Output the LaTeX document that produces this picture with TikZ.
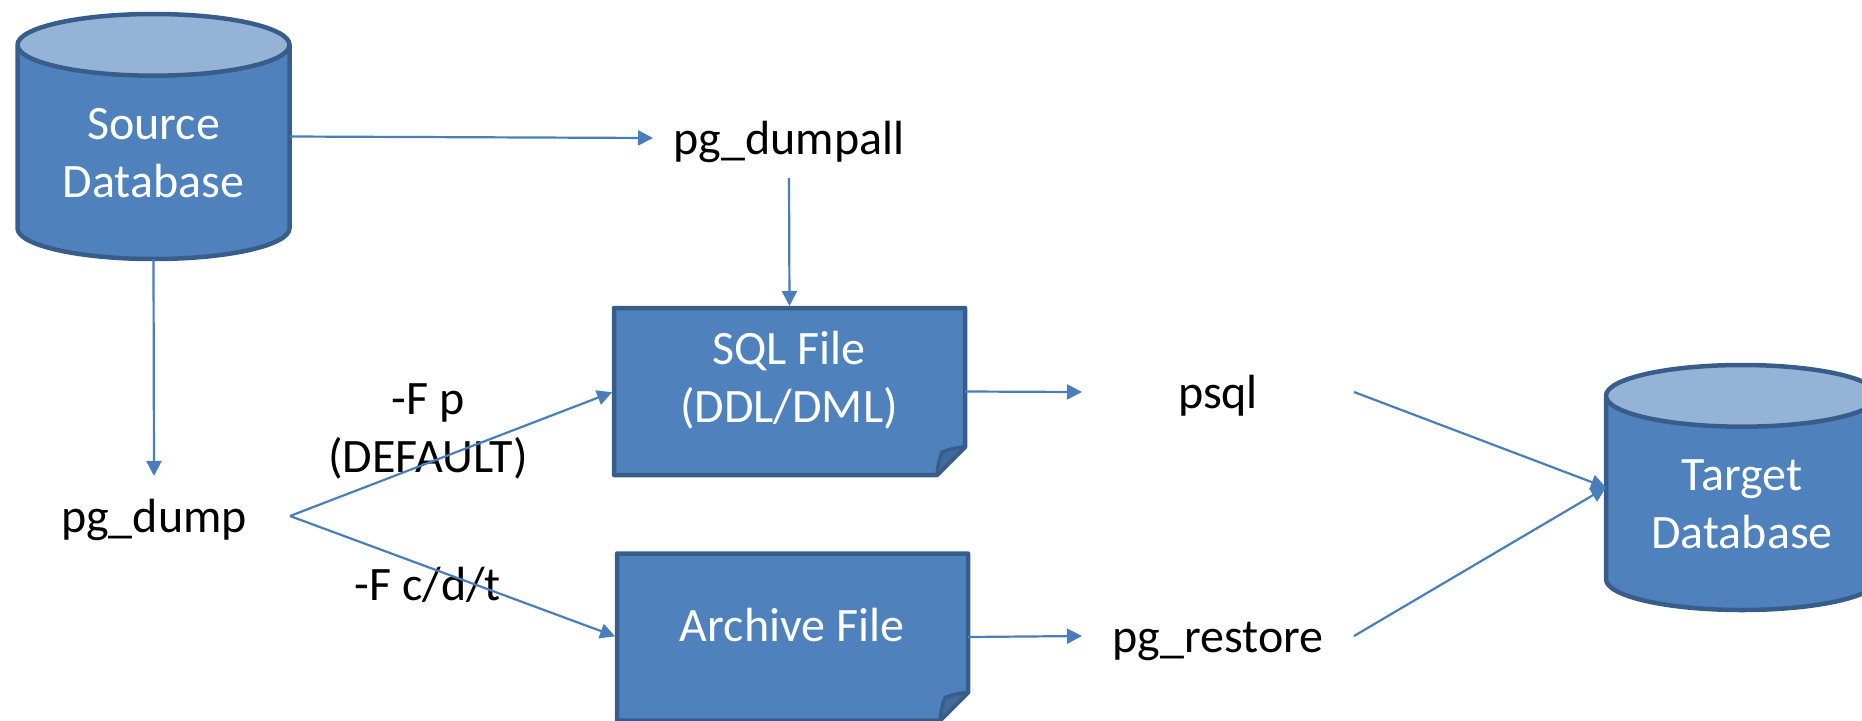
\documentclass[tikz,border=0pt]{standalone}
\usepackage{fontspec}
\setmainfont{Carlito}
\usetikzlibrary{shapes.geometric}
\usetikzlibrary{arrows.meta}
\definecolor{boxfill}{HTML}{4F81BD}
\definecolor{boxline}{HTML}{385D8A}
\definecolor{boxtop}{HTML}{95B3D7}
\definecolor{flapfill}{HTML}{41699A}
\definecolor{arrowline}{HTML}{4A7EBB}
\begin{document}
\begin{tikzpicture}[x=1pt, y=-1pt, font=\fontsize{48}{58}\selectfont,
	dbase/.style={draw=boxline,line width=4.5pt,shape=cylinder,shape border rotate=90,aspect=0.34,
	cylinder uses custom fill,cylinder body fill=boxfill,cylinder end fill=boxtop,anchor=shape center,
	minimum width=272pt,minimum height=245pt,inner sep=0pt,outer sep=0pt,text=white,align=center},
	filebox/.style={minimum width=351pt,minimum height=167pt,inner sep=0pt,outer sep=0pt},
	fileline/.style={draw=boxline,fill=boxfill,line width=4.5pt,line join=round},
	flap/.style={draw=boxline,fill=flapfill,line width=3.5pt,line join=round},
	filetext/.style={text=white,align=center},
	tool/.style={minimum width=272pt,minimum height=80pt,inner sep=0pt,outer sep=0pt,text height=40pt,text depth=8pt},
	flag/.style={align=center,inner sep=0pt},
	link/.style={draw=arrowline,line width=2.2pt,-{Triangle[length=15pt,width=15pt]}},
	tofile/.style={link,shorten >=2pt}]
\useasboundingbox (0,0) rectangle (1862,720);
\clip (0,0) rectangle (1862,720);
\node[dbase] (src) at (153.5, 136.5) {Source\\Database};
\node[dbase] (tgt) at (1742, 487.5) {Target\\Database};
\node[filebox] (sql) at (789.5, 391.5) {};
\node[filebox] (arc) at (792.5, 637) {};
\draw[fileline] (sql.north west) -- (sql.north east) -- ([yshift=28pt]sql.south east) -- ([xshift=-28pt]sql.south east) -- (sql.south west) -- cycle;
\draw[fileline] (arc.north west) -- (arc.north east) -- ([yshift=28pt]arc.south east) -- ([xshift=-28pt]arc.south east) -- (arc.south west) -- cycle;
\draw[flap] ([xshift=-28pt]sql.south east) to[bend left=8] ([xshift=-23pt,yshift=23pt]sql.south east) to[bend left=8] ([yshift=28pt]sql.south east) -- cycle;
\draw[flap] ([xshift=-28pt]arc.south east) to[bend left=8] ([xshift=-23pt,yshift=23pt]arc.south east) to[bend left=8] ([yshift=28pt]arc.south east) -- cycle;
\node[filetext] (sqltxt) at (789, 380) {SQL File\\(DDL/DML)};
\node[filetext] (arctxt) at (792, 625) {Archive File};
\node[tool] (dumpall) at (789, 138) {pg\_dumpall};
\node[tool] (dump) at (154, 516) {pg\_dump};
\node[tool] (psql) at (1218, 392) {psql};
\node[tool] (restore) at (1218, 636) {pg\_restore};
\node[flag] (plain) at (428, 431) {-F p\\(DEFAULT)};
\node[flag] (custom) at (428, 585) {-F c/d/t};
\draw[link] (src.east |- src.shape center) to (dumpall.west);
\draw[link] (src.south) to (dump.north);
\draw[tofile] (dumpall.south) to (sql.north);
\draw[tofile] (dump.east) to (sql.west);
\draw[tofile] (dump.east) to (arc.west);
\draw[link] (sql.east) to (psql.west);
\draw[link] (arc.east) to (restore.west);
\draw[link] (psql.east) to (tgt.west |- tgt.shape center);
\draw[link] (restore.east) to (tgt.west |- tgt.shape center);
\end{tikzpicture}
\end{document}
